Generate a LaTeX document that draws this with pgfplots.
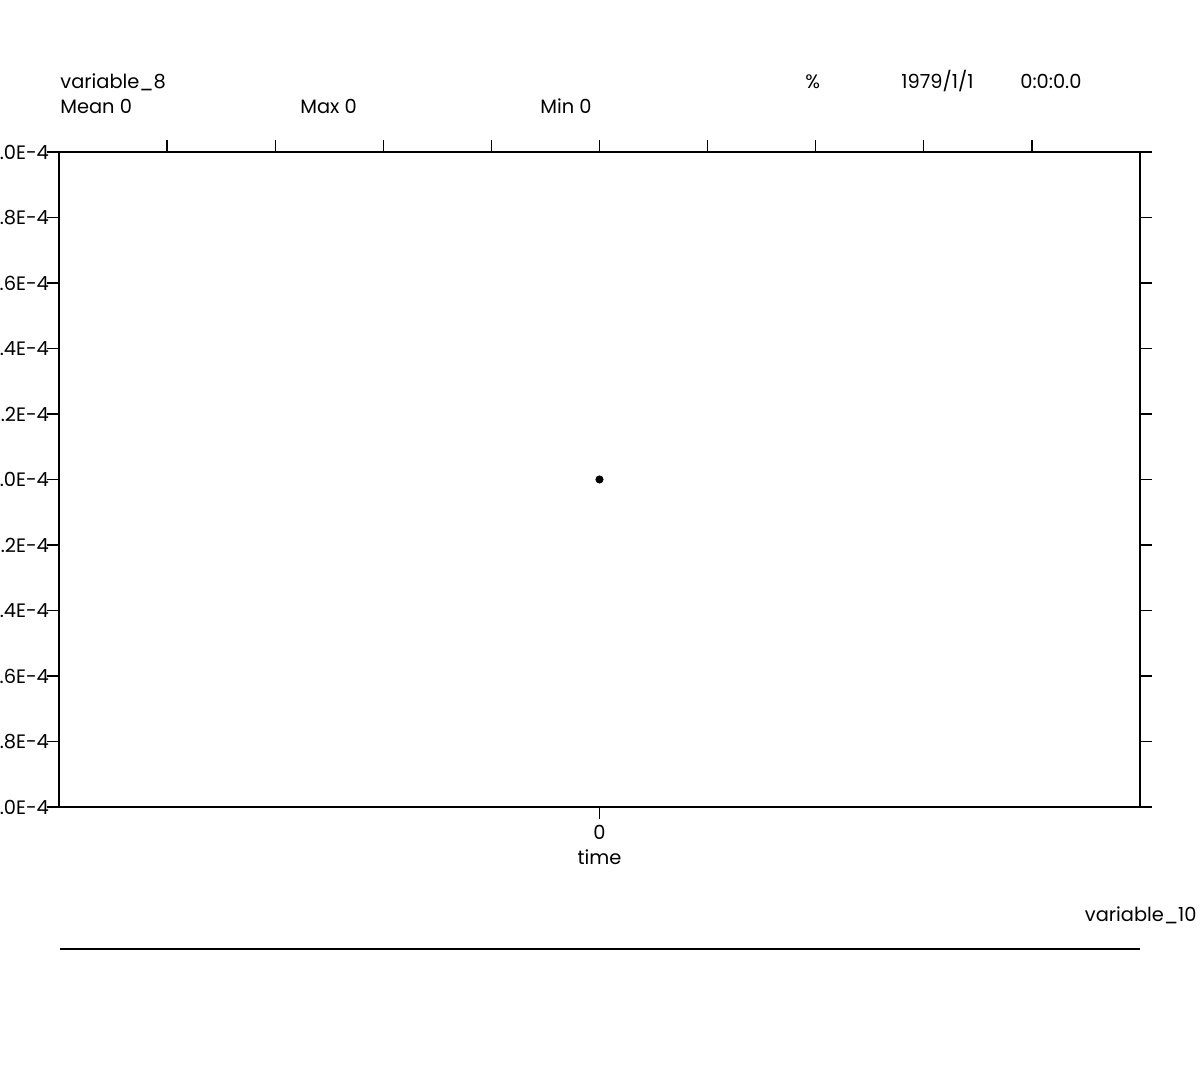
\documentclass[border=0pt]{standalone}
\usepackage{pgfplots}
\pgfplotsset{compat=1.18}
\usepackage{fontspec}
\setmainfont{Poppins}
\newcommand{\ft}{\fontsize{9.7}{11}\selectfont}
\begin{document}
\begin{tikzpicture}
\begin{axis}[
  name=ax,
  scale only axis, width=540.5pt, height=327.5pt,
  xmin=-5, xmax=5, ymin=-1e-4, ymax=1e-4,
  axis line style={line width=0.6pt},
  every tick/.style={black, line width=0.6pt},
  major tick length=6pt,
  tick align=outside,
  xtick={-4,-3,-2,-1,0,1,2,3,4}, xtick pos=upper, xticklabels={},
  xticklabel pos=lower,
  extra x ticks={0}, extra x tick labels={0},
  extra x tick style={xtick pos=lower, xticklabel pos=lower, tick label style={font=\ft, yshift=0.5pt}},
  ytick={-1e-4,-0.8e-4,-0.6e-4,-0.4e-4,-0.2e-4,0,0.2e-4,0.4e-4,0.6e-4,0.8e-4,1e-4},
  yticklabels={-1.0E-4,-0.8E-4,-0.6E-4,-0.4E-4,-0.2E-4,0.0E-4,0.2E-4,0.4E-4,0.6E-4,0.8E-4,1.0E-4},
  ytick pos=both,
  yticklabel pos=left,
  scaled y ticks=false, scaled x ticks=false,
  yticklabel style={font=\ft, xshift=4.5pt},
  xlabel={time}, xlabel style={font=\ft, yshift=7.5pt},
  clip=false,
]
\addplot[only marks, mark=*, mark size=1.8pt, black] coordinates {(0,0)};
\end{axis}
\begin{scope}[every node/.style={inner sep=0, font=\ft}]
\node[anchor=base west] at (0.5pt,359pt) {variable\_8};
\node[anchor=base west] at (0.5pt,346.5pt) {Mean 0};
\node[anchor=base west] at (120.5pt,346.5pt) {Max 0};
\node[anchor=base west] at (240.5pt,346.5pt) {Min 0};
\node[anchor=base west] at (373pt,359pt) {\%};
\node[anchor=base west] at (421pt,359pt) {1979/1/1};
\node[anchor=base west] at (480.5pt,359pt) {0:0:0.0};
\node[anchor=base east] at (569pt,-57.5pt) {variable\_10};
\end{scope}
\draw[line width=0.6pt] (0.5pt,-71pt) -- (540.5pt,-71pt);
\pgfresetboundingbox
\useasboundingbox (-29.5pt,-141.5pt) rectangle (570.5pt,403.5pt);
\end{tikzpicture}
\end{document}
